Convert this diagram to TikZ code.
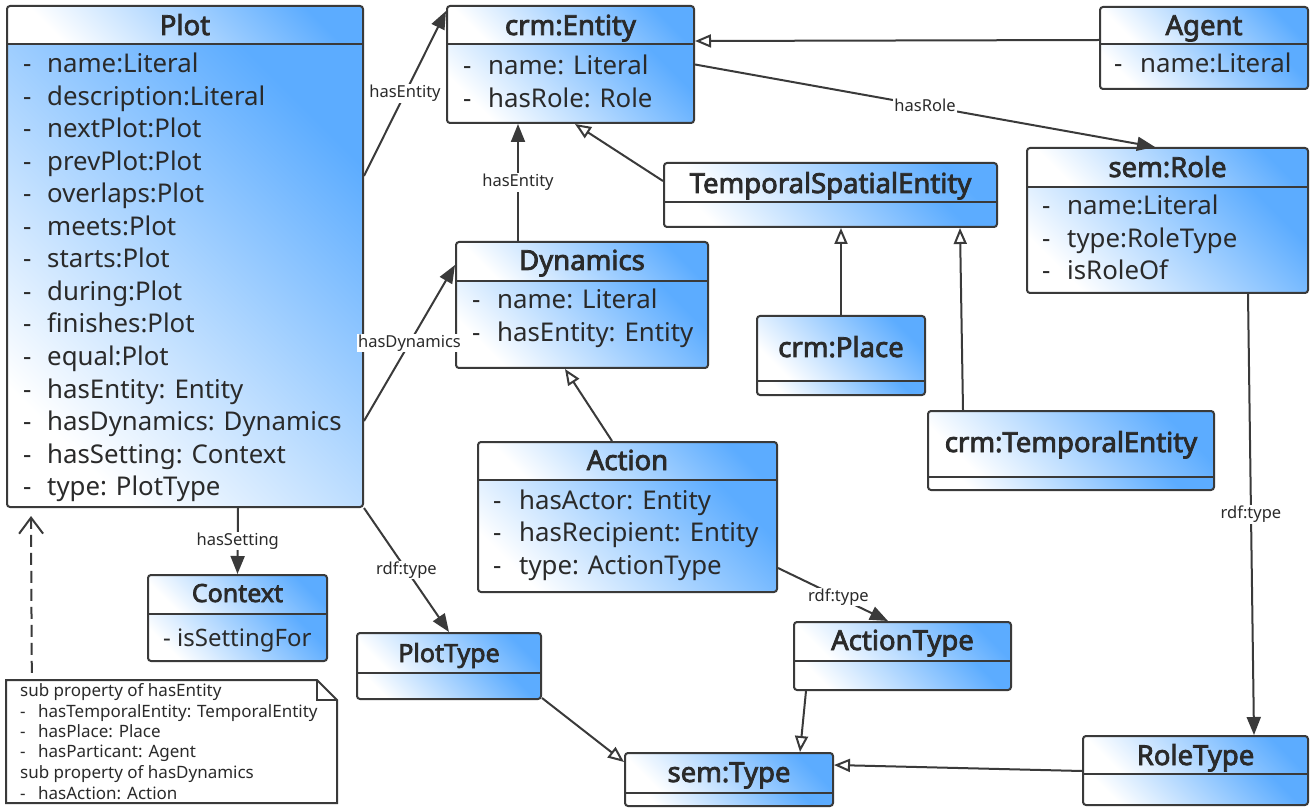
\documentclass[tikz,border=0pt]{standalone}
\usepackage{fontspec}
\setmainfont{Noto Sans}
\newfontfamily\titlefont{Noto Sans}[FakeBold=2.8]
\usetikzlibrary{arrows.meta,fit}
\definecolor{umlblue}{RGB}{92,172,255}
\definecolor{ink}{HTML}{2A2A2A}
\definecolor{edgec}{HTML}{3A3A3A}
\tikzset{
 cshade/.style={left color=white, right color=umlblue, shading angle=135},
 classbox/.style={draw=edgec, line width=2pt, rounded corners=3pt, inner sep=0pt},
 sepline/.style={draw=edgec, line width=2pt},
 ctitle/.style={font=\titlefont\fontsize{27.5}{30}\selectfont, text=ink, inner sep=0pt, anchor=base},
 ctitlesm/.style={font=\titlefont\fontsize{25}{28}\selectfont, text=ink, inner sep=0pt, anchor=base},
 attr/.style={font=\fontsize{25.8}{30}\selectfont, text=ink, inner sep=0pt, anchor=base west},
 attrsm/.style={font=\fontsize{24}{28}\selectfont, text=ink, inner sep=0pt, anchor=base west},
 notetext/.style={font=\fontsize{17}{20}\selectfont, text=ink, inner sep=0pt, anchor=base west},
 elabel/.style={font=\fontsize{16.5}{18}\selectfont, text=ink, fill=white, inner sep=1pt},
 assoc/.style={draw=edgec, line width=2pt, -{Triangle[length=18pt,width=14pt]}},
 gen/.style={draw=edgec, line width=2pt, -{Triangle[open,length=16pt,width=13pt,fill=white]}},
 realize/.style={draw=edgec, line width=2pt, dash pattern=on 12pt off 6pt, -{Straight Barb[length=16pt,width=24pt]}},
}
\newcommand\umlclass[6]{%
 \begin{scope}
  \clip[rounded corners=3pt] (#2,#3) rectangle (#4,#5);
  \shade[cshade] (#2,#3) rectangle (#4,#6);
  \shade[cshade] (#2,#6) rectangle (#4,#5);
 \end{scope}
 \node[classbox, fit={(#2,#3) (#4,#5)}] (#1) {};
 \draw[sepline] (#2,#6) -- (#4,#6);
}
\newcommand\attrlist[6]{%
 \foreach \t [count=\i] in {#6} {%
  \node[attr] (#1-d\i) at (#2, {#4+(\i-1)*#5}) {-};
  \node[attr] (#1-a\i) at (#3, {#4+(\i-1)*#5}) {\t};
 }%
}
\begin{document}
\begin{tikzpicture}[x=1pt, y=-1pt]
\useasboundingbox (0,0) rectangle (1315,810);

% Plot
\umlclass{plot}{7}{6}{363}{507}{44}
\node[ctitle] (plot-t) at (185,35) {Plot};
\attrlist{plot}{23}{47}{73}{32.5}{name:Literal, description:Literal, nextPlot:Plot, prevPlot:Plot, overlaps:Plot, meets:Plot, starts:Plot, during:Plot, finishes:Plot, equal:Plot, hasEntity: Entity, hasDynamics: Dynamics, hasSetting: Context, type: PlotType}

% crm:Entity
\umlclass{ent}{447}{6}{694}{123}{44}
\node[ctitle] (ent-t) at (570.5,35) {crm:Entity};
\attrlist{ent}{463}{488}{75}{32.5}{name: Literal, hasRole: Role}

% Agent
\umlclass{agent}{1100}{7}{1308}{89}{44}
\node[ctitle] (agent-t) at (1204,35) {Agent};
\attrlist{agent}{1114}{1140}{73}{32.5}{name:Literal}

% sem:Role
\umlclass{role}{1027}{148}{1308}{293}{187}
\node[ctitle] (role-t) at (1167.5,177) {sem:Role};
\attrlist{role}{1042}{1067}{215}{32.5}{name:Literal, type:RoleType, isRoleOf}

% TemporalSpatialEntity
\umlclass{tse}{664}{163}{997}{227}{202}
\node[ctitle] (tse-t) at (830.5,193) {TemporalSpatialEntity};

% Dynamics
\umlclass{dyn}{456}{242}{708}{368}{281}
\node[ctitle] (dyn-t) at (582,270) {Dynamics};
\attrlist{dyn}{472}{497}{309}{32.5}{name: Literal, hasEntity: Entity}

% crm:Place
\umlclass{place}{757}{316}{925}{395}{381}
\node[ctitle] (place-t) at (841,357) {crm:Place};

% crm:TemporalEntity
\umlclass{te}{928}{411}{1214}{490}{477}
\node[ctitle] (te-t) at (1071,452) {crm:TemporalEntity};

% Action
\umlclass{action}{478}{442}{777}{592}{480}
\node[ctitle] (action-t) at (627.5,470) {Action};
\attrlist{action}{493}{519}{509}{32.5}{hasActor: Entity, hasRecipient: Entity, type: ActionType}

% Context
\umlclass{ctx}{148}{575}{327}{661}{614}
\node[ctitlesm] (ctx-t) at (237.5,602) {Context};
\node[attrsm] (ctx-a1) at (163,646) {- isSettingFor};

% PlotType
\umlclass{ptype}{357}{633}{541}{699}{673}
\node[ctitlesm] (ptype-t) at (449,662) {PlotType};

% ActionType
\umlclass{atype}{794}{622}{1011}{690}{661}
\node[ctitle] (atype-t) at (902.5,650) {ActionType};

% sem:Type
\umlclass{stype}{625}{753}{833}{806}{793}
\node[ctitle] (stype-t) at (729,782) {sem:Type};

% RoleType
\umlclass{rtype}{1083}{736}{1308}{805}{774}
\node[ctitle] (rtype-t) at (1195.5,765) {RoleType};

% Note
\draw[edgec, line width=2pt, fill=white] (6,680) -- (317,680) -- (337,700) -- (337,803) -- (6,803) -- cycle;
\draw[edgec, line width=2pt] (317,680) -- (317,700) -- (337,700);
\node[fit={(6,680) (337,803)}, inner sep=0pt] (note) {};
\node[notetext] (n1) at (20,696) {sub property of hasEntity};
\node[notetext] (n2d) at (20,717) {-};
\node[notetext] (n2) at (38,717) {hasTemporalEntity: TemporalEntity};
\node[notetext] (n3d) at (20,737) {-};
\node[notetext] (n3) at (38,737) {hasPlace: Place};
\node[notetext] (n4d) at (20,757) {-};
\node[notetext] (n4) at (38,757) {hasParticant: Agent};
\node[notetext] (n5) at (20,778) {sub property of hasDynamics};
\node[notetext] (n6d) at (20,799) {-};
\node[notetext] (n6) at (38,799) {hasAction: Action};

% Connectors
\draw[assoc] ([yshift=-171pt]plot.north east) -- ([yshift=-6pt]ent.north west) node[elabel,midway] (l1) {hasEntity};
\draw[assoc] ([yshift=-416pt]plot.north east) -- ([yshift=-24pt]dyn.north west) node[elabel,midway] (l2) {hasDynamics};
\draw[assoc] ([xshift=53pt]plot.south) -- (ctx.north) node[elabel,midway] (l3) {hasSetting};
\draw[assoc] (plot.south east) -- (ptype.north) node[elabel,midway] (l4) {rdf:type};
\draw[assoc] ([xshift=-64pt]dyn.north) -- ([xshift=-52.5pt]ent.south) node[elabel,midway] (l5) {hasEntity};
\draw[gen] ([yshift=14pt]tse.west) -- ([xshift=4.5pt]ent.south);
\draw[gen] ([yshift=8pt]agent.west) -- ([yshift=23.5pt]ent.east);
\draw[assoc] (ent.east) -- ([xshift=-12.5pt]role.north) node[elabel,midway] (l8) {hasRole};
\draw[gen] (place.north) -- ([xshift=10.5pt]tse.south);
\draw[gen] ([xshift=-108pt]te.north) -- ([xshift=129.5pt]tse.south);
\draw[gen] ([xshift=-15.5pt]action.north) -- ([xshift=-17pt]dyn.south);
\draw[assoc] ([yshift=-51pt]action.east) -- ([xshift=-14.5pt]atype.north) node[elabel,pos=0.55] (l12) {rdf:type};
\draw[assoc] ([xshift=80.5pt]role.south) -- ([xshift=58.5pt]rtype.north) node[elabel,midway] (l13) {rdf:type};
\draw[gen] ([yshift=2pt]ptype.south east) -- ([yshift=17.5pt]stype.west);
\draw[gen] ([xshift=-96.5pt]atype.south) -- ([xshift=71pt]stype.north);
\draw[gen] ([yshift=-0.5pt]rtype.west) -- ([yshift=14.5pt]stype.east);
\draw[realize] ([xshift=26pt,yshift=7pt]note.north west) -- ([xshift=25pt,yshift=-8pt]plot.south west);
\end{tikzpicture}
\end{document}
